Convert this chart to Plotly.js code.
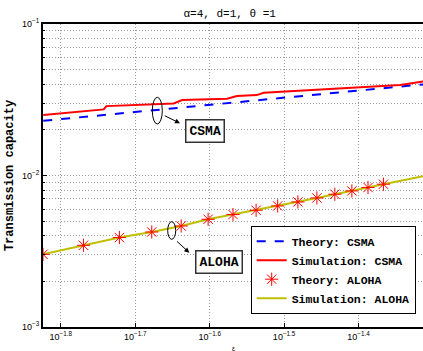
<!DOCTYPE html>
<html>
<head>
<meta charset="utf-8">
<script src="https://cdn.plot.ly/plotly-3.0.1.min.js"></script>
<style>html,body{margin:0;padding:0;overflow:hidden;background:#fff;}</style>
</head>
<body>
<div id="chart" style="width:423px;height:351px;"></div>
<script>
// ---- data ----
const csmaTheoryX = [0.01501, 0.01585, 0.01995, 0.02512, 0.03162, 0.03981, 0.04862];
const csmaTheoryY = [0.02296, 0.02355, 0.02625, 0.02925, 0.03261, 0.03634, 0.03995];

const csmaSimX = [0.01501, 0.01810, 0.01825, 0.02247, 0.02307, 0.02651, 0.02733, 0.02907, 0.02968, 0.04002, 0.04529, 0.04862];
const csmaSimY = [0.02504, 0.02731, 0.02871, 0.02991, 0.03147, 0.03208, 0.03343, 0.03394, 0.03515, 0.03793, 0.03951, 0.04169];

const alohaTheoryX = [0.015, 0.017, 0.019, 0.021, 0.023, 0.025, 0.027, 0.029, 0.031, 0.033, 0.035, 0.037, 0.039, 0.041, 0.043];
const alohaTheoryY = [0.003018, 0.003461, 0.003893, 0.004238, 0.004643, 0.005141, 0.005524, 0.005896, 0.006295, 0.006691, 0.007110, 0.007522, 0.007910, 0.008331, 0.008762];

const alohaSimX = [0.015, 0.017, 0.019, 0.021, 0.023, 0.025, 0.027, 0.029, 0.031, 0.033, 0.035, 0.037, 0.039, 0.041, 0.043, 0.0486];
const alohaSimY = [0.003018, 0.003461, 0.003893, 0.004238, 0.004643, 0.005141, 0.005524, 0.005896, 0.006295, 0.006691, 0.007110, 0.007522, 0.007910, 0.008331, 0.008762, 0.00989];

const xTickExps = [-1.8, -1.7, -1.6, -1.5, -1.4];
const xTickLabels = ['10<sup>\u22121.8</sup>', '10<sup>\u22121.7</sup>', '10<sup>\u22121.6</sup>', '10<sup>\u22121.5</sup>', '10<sup>\u22121.4</sup>'];
const yTickVals = [0.001, 0.01, 0.1];
const yTickLabels = ['10<sup>\u22123</sup>', '10<sup>\u22122</sup>', '10<sup>\u22121</sup>'];
const yMinorVals = [0.002,0.003,0.004,0.005,0.006,0.007,0.008,0.009,0.02,0.03,0.04,0.05,0.06,0.07,0.08,0.09];

const legendNames = ['Theory: CSMA', 'Simulation: CSMA', 'Theory: ALOHA', 'Simulation: ALOHA'];
const chartTitle = '\u03b1=4, d=1, \u03b8 =1';
const yTitle = 'Transmission capacity';
const xTitle = '\u03b5';

// ---- traces ----
const mono = '"Liberation Mono", "Courier New", monospace';
const traces = [
  {x: csmaTheoryX, y: csmaTheoryY, mode: 'lines', name: legendNames[0],
   line: {color: '#0000ff', width: 2, dash: 'dash'}},
  {x: csmaSimX, y: csmaSimY, mode: 'lines', name: legendNames[1],
   line: {color: '#ff0000', width: 2}},
  {x: alohaSimX, y: alohaSimY, mode: 'lines', name: legendNames[3], showlegend: false,
   line: {color: '#bfbf00', width: 2}},
  {x: alohaTheoryX, y: alohaTheoryY, mode: 'markers', name: legendNames[2],
   marker: {symbol: 'asterisk-open', size: 11, color: '#ff0000', line: {color: '#ff2020', width: 1}}},
  {x: [null], y: [null], mode: 'lines', name: legendNames[3],
   line: {color: '#bfbf00', width: 2}}
];

const L = 43, T = 24, W = 380, H = 303;
function px(x) { return (x - L) / W; }
function py(y) { return (T + H - y) / H; }
const gdash = '1px,2px';
const gcol = '#999999';

const layout = {
  width: 423, height: 351,
  margin: {l: L, r: 0, t: T, b: 351 - T - H, pad: 0},
  paper_bgcolor: '#fff', plot_bgcolor: '#fff',
  showlegend: true,
  title: {text: chartTitle, font: {family: mono, size: 11, color: '#000'}, x: 0.543, xanchor: 'center', y: 0.963, yanchor: 'middle'},
  xaxis: {
    type: 'log',
    range: [Math.log10(0.015), Math.log10(0.0486)],
    tickmode: 'array',
    tickvals: xTickExps.map(e => Math.pow(10, e)),
    ticktext: xTickLabels,
    tickfont: {family: 'Liberation Sans, Arial, sans-serif', size: 9, color: '#000'},
    ticks: 'inside', ticklen: 4, tickcolor: '#000',
    showgrid: true, gridcolor: gcol, griddash: gdash, gridwidth: 1,
    showline: true, linecolor: '#000', linewidth: 2, mirror: true,
    zeroline: false
  },
  yaxis: {
    type: 'log',
    range: [-3, -1],
    tickmode: 'array',
    tickvals: yTickVals,
    ticktext: yTickLabels,
    tickfont: {family: 'Liberation Sans, Arial, sans-serif', size: 9, color: '#000'},
    ticks: 'inside', ticklen: 4, tickcolor: '#000',
    showgrid: true, gridcolor: gcol, griddash: gdash, gridwidth: 1,
    minor: {tickmode: 'array', tickvals: yMinorVals, ticks: 'inside', ticklen: 2, tickcolor: '#000',
            showgrid: true, gridcolor: gcol, griddash: gdash, gridwidth: 1},
    showline: true, linecolor: '#000', linewidth: 2, mirror: false,
    zeroline: false,
    title: {text: '<b>' + yTitle + '</b>', font: {family: mono, size: 12, color: '#000'}, standoff: 6}
  },
  legend: {
    x: px(415.7), xanchor: 'right', y: py(225.7), yanchor: 'top',
    bgcolor: '#fff', bordercolor: '#000', borderwidth: 1,
    font: {family: mono, size: 11.5, color: '#000', weight: 'bold'},
    itemwidth: 30, tracegroupgap: 0
  },
  shapes: [
    {type: 'circle', xref: 'paper', yref: 'paper', x0: px(152.3), x1: px(162.3), y0: py(124), y1: py(97.3),
     line: {color: '#000', width: 1}},
    {type: 'circle', xref: 'paper', yref: 'paper', x0: px(167.7), x1: px(175.7), y0: py(239.3), y1: py(221.7),
     line: {color: '#000', width: 1}}
  ],
  annotations: [
    {xref: 'paper', yref: 'paper', x: px(180), y: py(123.3), ax: -16.7, ay: -8.3, showarrow: true,
     arrowhead: 2, arrowsize: 1, arrowwidth: 1, arrowcolor: '#000', text: ''},
    {xref: 'paper', yref: 'paper', x: px(189.3), y: py(252.7), ax: -13.8, ay: -12.7, showarrow: true,
     arrowhead: 2, arrowsize: 1, arrowwidth: 1, arrowcolor: '#000', text: ''},
    {xref: 'paper', yref: 'paper', x: px(205.2), y: py(131.2), showarrow: false, text: '<b>CSMA</b>',
     font: {family: mono, size: 13, color: '#000'}, bgcolor: '#fff', bordercolor: '#333', borderwidth: 1.5, borderpad: 3,
     xanchor: 'center', yanchor: 'middle'},
    {xref: 'paper', yref: 'paper', x: px(219.2), y: py(261.7), showarrow: false, text: '<b>ALOHA</b>',
     font: {family: mono, size: 13, color: '#000'}, bgcolor: '#fff', bordercolor: '#333', borderwidth: 1.5, borderpad: 3,
     xanchor: 'center', yanchor: 'middle'},
    {xref: 'paper', yref: 'paper', x: px(233), y: py(348), showarrow: false, text: xTitle,
     font: {family: 'Liberation Sans, Arial, sans-serif', size: 7, color: '#000'}, xanchor: 'center', yanchor: 'middle'}
  ]
};

Plotly.newPlot('chart', traces, layout, {displayModeBar: false, staticPlot: true});
</script>
</body>
</html>
